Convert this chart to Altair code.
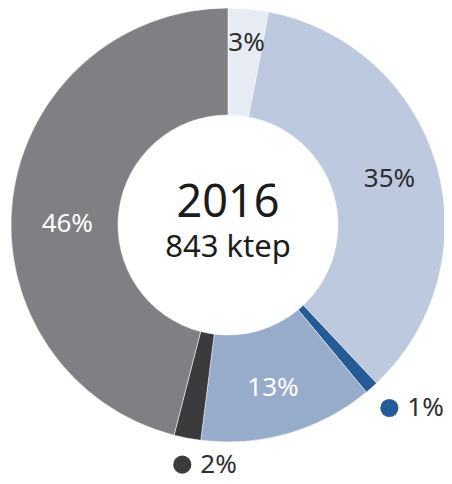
import altair as alt
import pandas as pd

# ---- data ----
labels = ["3%", "35%", "1%", "13%", "2%", "46%"]
values = [3, 35, 1, 13, 2, 46]
slice_colors = ["#e7ecf4", "#bdc9df", "#255c97", "#97abcb", "#3b3b3d", "#7f8083"]
placement = ["in", "in", "out", "in", "out", "in"]
label_colors = ["#2e2e2e", "#2e2e2e", "#2e2e2e", "#ffffff", "#2e2e2e", "#ffffff"]
center_year = ["2016"]
center_total = ["843 ktep"]

df = pd.DataFrame({
    "idx": list(range(len(values))),
    "label": labels,
    "value": values,
    "place": placement,
})

CX, CY = 220, 217
R_IN, R_OUT = 110, 217
FONT = "Noto Sans"

arcs = alt.Chart(df).mark_arc(
    innerRadius=R_IN, outerRadius=R_OUT, stroke="white", strokeWidth=0.5
).encode(
    theta=alt.Theta("value:Q", stack=True),
    order=alt.Order("idx:Q"),
    color=alt.Color("label:N", scale=alt.Scale(domain=labels, range=slice_colors), legend=None),
    x=alt.value(CX),
    y=alt.value(CY),
)


def placed(lab, r):
    return (
        alt.Chart(df)
        .transform_window(cum="sum(value)", sort=[alt.SortField("idx", order="ascending")], frame=[None, 0])
        .transform_calculate(mid="2*PI*(datum.cum - datum.value/2)/100")
        .transform_filter(f"datum.label == '{lab}'")
        .transform_calculate(px=f"{CX} + {r}*sin(datum.mid)", py=f"{CY} - {r}*cos(datum.mid)")
    )


# per-label nudges (dx, dy) for inner labels
nudges = {"3%": (3, -18), "35%": (3, 0), "13%": (-1, 5), "46%": (3, 20)}

layers = [arcs]
for i, lab in enumerate(labels):
    if placement[i] == "in":
        dx, dy = nudges.get(lab, (0, 0))
        layers.append(
            placed(lab, 165).mark_text(
                font=FONT, fontSize=26, color=label_colors[i], baseline="middle", align="center", dx=dx, dy=dy
            ).encode(
                x=alt.X("px:Q", scale=None, axis=None),
                y=alt.Y("py:Q", scale=None, axis=None),
                text="label:N",
            )
        )
    else:
        layers.append(
            placed(lab, 244).mark_circle(size=330, opacity=1, color=slice_colors[i]).encode(
                x=alt.X("px:Q", scale=None, axis=None),
                y=alt.Y("py:Q", scale=None, axis=None),
            )
        )
        layers.append(
            placed(lab, 244).mark_text(
                font=FONT, fontSize=26, color=label_colors[i], baseline="middle", align="left", dx=18, dy=0
            ).encode(
                x=alt.X("px:Q", scale=None, axis=None),
                y=alt.Y("py:Q", scale=None, axis=None),
                text="label:N",
            )
        )

year = alt.Chart(pd.DataFrame({"t": center_year})).mark_text(
    font=FONT, fontSize=45, color="#1c1c1c", baseline="alphabetic", align="center"
).encode(text="t:N", x=alt.value(CX), y=alt.value(209))

total = alt.Chart(pd.DataFrame({"t": center_total})).mark_text(
    font=FONT, fontSize=31, color="#1c1c1c", baseline="alphabetic", align="center"
).encode(text="t:N", x=alt.value(CX), y=alt.value(249))

layers += [year, total]

chart = alt.layer(*layers).properties(
    width=436, height=474, autosize=alt.AutoSizeParams(type="none"), padding=0, background="white"
).configure_view(stroke=None)

chart.save("out.html", embed_options={"renderer": "svg", "actions": False})
